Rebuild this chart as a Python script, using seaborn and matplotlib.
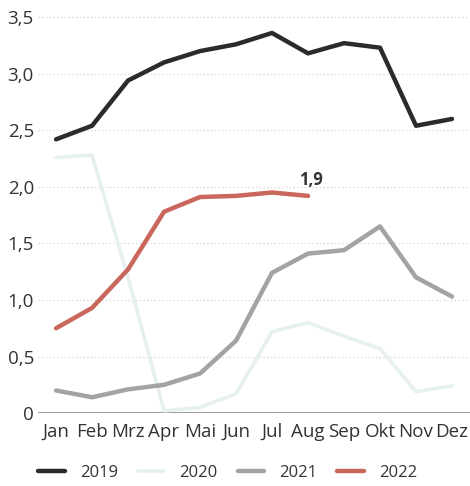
import matplotlib
matplotlib.use("Agg")
import matplotlib.pyplot as plt
import seaborn as sns
import pandas as pd
from matplotlib.lines import Line2D

months = ["Jan", "Feb", "Mrz", "Apr", "Mai", "Jun", "Jul", "Aug", "Sep", "Okt", "Nov", "Dez"]
v2019 = [2.42, 2.54, 2.94, 3.10, 3.20, 3.26, 3.36, 3.18, 3.27, 3.23, 2.54, 2.60]
v2020 = [2.26, 2.28, 1.20, 0.02, 0.05, 0.17, 0.72, 0.80, 0.68, 0.57, 0.19, 0.24]
v2021 = [0.20, 0.14, 0.21, 0.25, 0.35, 0.64, 1.24, 1.41, 1.44, 1.65, 1.20, 1.03]
v2022 = [0.75, 0.93, 1.27, 1.78, 1.91, 1.92, 1.95, 1.92]
years = ["2019", "2020", "2021", "2022"]
yticks = [0, 0.5, 1.0, 1.5, 2.0, 2.5, 3.0, 3.5]
ytick_labels = ["0", "0,5", "1,0", "1,5", "2,0", "2,5", "3,0", "3,5"]
annot_text = "1,9"

rows = []
for yr, vals in zip(years, [v2019, v2020, v2021, v2022]):
    for i, v in enumerate(vals):
        rows.append({"x": i, "value": v, "year": yr})
df = pd.DataFrame(rows)

sns.set_style("white")
plt.rcParams["font.family"] = ["Open Sans", "DejaVu Sans"]

palette = {"2019": "#2b2b2b", "2020": "#e6f0ee", "2021": "#a3a3a3", "2022": "#c9675c"}
widths = {"2019": 3.2, "2020": 2.6, "2021": 3.2, "2022": 3.2}

fig = plt.figure(figsize=(4.70, 4.86), dpi=100)
ax = fig.add_axes([0.081, 0.150, 0.919, 0.838])

for y in yticks[1:]:
    ax.axhline(y, color="#d4d4d4", lw=0.9, ls=(0, (1, 2)), zorder=0)
ax.axhline(0, color="#8a8a8a", lw=1.2, zorder=1)

for yr in years:
    sns.lineplot(data=df[df["year"] == yr], x="x", y="value", color=palette[yr],
                 linewidth=widths[yr], ax=ax, legend=False, sort=False, estimator=None)

ax.set_xlim(-0.5, 11.5)
ax.set_ylim(0, 3.6)
ax.set_xticks(range(12))
ax.set_xticklabels(months)
ax.set_yticks(yticks)
ax.set_yticklabels(ytick_labels)
ax.set_xlabel("")
ax.set_ylabel("")
ax.tick_params(axis="both", length=0, labelsize=13.5, colors="#333333")
ax.tick_params(axis="y", pad=3)
ax.tick_params(axis="x", pad=7)
for s in ax.spines.values():
    s.set_visible(False)

ax.annotate(annot_text, xy=(7, v2022[7]), xytext=(2, 5), textcoords="offset points",
            ha="center", va="bottom", fontsize=12, fontweight="bold", color="#333333")

handles = [Line2D([0], [0], color=palette[y], lw=widths[y]) for y in years]
fig.legend(handles, years, loc="center left", bbox_to_anchor=(0.081, 0.027), ncol=4,
           frameon=False, fontsize=12, handlelength=1.6, handletextpad=0.9,
           columnspacing=1.2, labelcolor="#333333", borderaxespad=0, borderpad=0)

fig.savefig("out.png", dpi=100)
